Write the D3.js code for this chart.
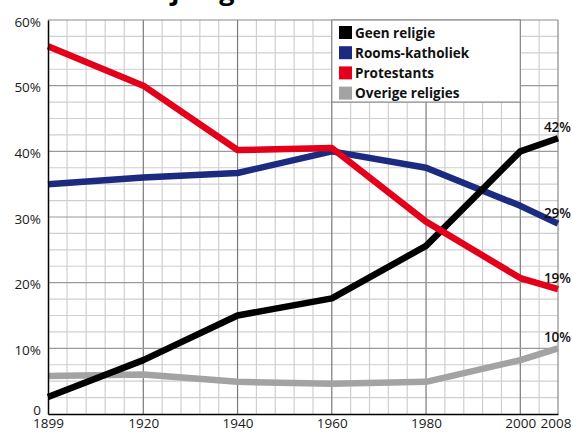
<!DOCTYPE html>
<html>
<head>
<meta charset="utf-8">
<script src="https://cdn.jsdelivr.net/npm/d3@7"></script>
<style>
  html, body { margin: 0; padding: 0; background: #fff; }
  svg { display: block; font-family: "Open Sans", "Noto Sans", sans-serif; }
</style>
</head>
<body>
<svg id="chart" width="572" height="433"></svg>
<script>
// Religious affiliation in the Netherlands, share of population (%)
const years = [1899, 1920, 1940, 1960, 1980, 2000, 2008];
const geenReligie    = [2.6, 8.2, 15.0, 17.6, 25.6, 40.0, 42];
const roomsKatholiek = [35.0, 36.0, 36.7, 40.0, 37.5, 31.7, 29];
const protestants    = [56.0, 50.0, 40.2, 40.5, 29.3, 20.7, 19];
const overige        = [5.8, 6.0, 4.9, 4.6, 4.9, 8.2, 10];

const seriesNames  = ["Geen religie", "Rooms-katholiek", "Protestants", "Overige religies"];
const seriesColors = ["#000000", "#1c2a80", "#e3001b", "#a3a3a3"];
const endLabels    = ["42%", "29%", "19%", "10%"];

const yTicks = [0, 10, 20, 30, 40, 50, 60];
const yTickLabels = ["0", "10%", "20%", "30%", "40%", "50%", "60%"];
const xTickLabels = ["1899", "1920", "1940", "1960", "1980", "2000", "2008"];

const seriesValues = [geenReligie, roomsKatholiek, protestants, overige];

const svg = d3.select("#chart");

// The first interval (1899-1920) gets the same width as a 20-year interval
const x = d3.scaleLinear().domain([1899, 1920, 2008]).range([48, 143.3, 558]);
const y = d3.scaleLinear().domain([0, 60]).range([414, 20]);

// Title (runs off the top edge)
svg.append("text")
  .attr("x", 76).attr("y", 0)
  .attr("font-size", 27).attr("font-weight", 700)
  .attr("fill", "#000")
  .text("Kerkelijke gezindte");

const grid = svg.append("g");

// minor grid: every 4 years (1899-1920 split into five), every 2.5%
const minorX = d3.range(1, 5).map(k => 1899 + k * 21 / 5)
  .concat(d3.range(1924, 2008, 4).filter(v => v % 20 !== 0));
const minorY = d3.range(2.5, 60, 2.5).filter(v => v % 10 !== 0);
const majorX = [1920, 1940, 1960, 1980, 2000];
const majorY = [10, 20, 30, 40, 50];

grid.selectAll("line.mx").data(minorX).join("line")
  .attr("x1", d => x(d)).attr("x2", d => x(d))
  .attr("y1", y(0)).attr("y2", y(60))
  .attr("stroke", "#cfcfcf").attr("stroke-width", 1.2);
grid.selectAll("line.my").data(minorY).join("line")
  .attr("x1", x(1899)).attr("x2", x(2008))
  .attr("y1", d => y(d)).attr("y2", d => y(d))
  .attr("stroke", "#cfcfcf").attr("stroke-width", 1.2);
grid.selectAll("line.Mx").data(majorX).join("line")
  .attr("x1", d => x(d)).attr("x2", d => x(d))
  .attr("y1", y(0)).attr("y2", y(60))
  .attr("stroke", "#7a7a7a").attr("stroke-width", 1.2);
grid.selectAll("line.My").data(majorY).join("line")
  .attr("x1", x(1899)).attr("x2", x(2008))
  .attr("y1", d => y(d)).attr("y2", d => y(d))
  .attr("stroke", "#9a9a9a").attr("stroke-width", 1.2);

// frame: top and right in grey
grid.append("line").attr("x1", x(1899)).attr("x2", x(2008)).attr("y1", y(60)).attr("y2", y(60))
  .attr("stroke", "#8a8a8a").attr("stroke-width", 1.2);
grid.append("line").attr("x1", x(2008)).attr("x2", x(2008)).attr("y1", y(0)).attr("y2", y(60))
  .attr("stroke", "#8a8a8a").attr("stroke-width", 1.2);

// legend panel covering the grid between 1960 and 2000
const lg = svg.append("g");
lg.append("rect")
  .attr("x", x(1960)).attr("y", y(60))
  .attr("width", x(2000) - x(1960)).attr("height", y(47.5) - y(60))
  .attr("fill", "#fff").attr("stroke", "#8a8a8a").attr("stroke-width", 1.2);
seriesNames.forEach((name, i) => {
  const cy = 32.5 + i * 20.2;
  lg.append("rect").attr("x", 339).attr("y", cy - 6.5).attr("width", 13).attr("height", 13)
    .attr("fill", seriesColors[i]);
  lg.append("text").attr("x", 355).attr("y", cy + 5)
    .attr("font-size", 13.5).attr("font-weight", 700).attr("fill", "#111")
    .text(name);
});

// lines
const line = d3.line().x((d, i) => x(years[i])).y(d => y(d));
const drawOrder = [3, 1, 0, 2];
drawOrder.forEach(i => {
  svg.append("path")
    .datum(seriesValues[i])
    .attr("d", line)
    .attr("fill", "none")
    .attr("stroke", seriesColors[i])
    .attr("stroke-width", 6.5)
    .attr("stroke-linejoin", "round");
});

// end labels
seriesValues.forEach((vals, i) => {
  svg.append("text")
    .attr("x", 571).attr("y", y(vals[vals.length - 1]) - 6)
    .attr("text-anchor", "end")
    .attr("font-size", 13.5).attr("font-weight", 600).attr("fill", "#111")
    .text(endLabels[i]);
});

// axes
const yAxis = d3.axisLeft(y).tickValues(yTicks).tickSize(0).tickPadding(7)
  .tickFormat((d, i) => yTickLabels[i]);
const gy = svg.append("g").attr("transform", `translate(${x(1899)},0)`).call(yAxis);
gy.select(".domain").attr("stroke", "#000").attr("stroke-width", 1.5);
gy.selectAll("text").attr("font-size", 13.5).attr("fill", "#1a1a1a")
  .attr("font-family", "'Open Sans', sans-serif")
  .attr("dy", d => d === 0 ? "0em" : "0.45em");

const xAxis = d3.axisBottom(x).tickValues(years).tickSize(0).tickPadding(4)
  .tickFormat((d, i) => xTickLabels[i]);
const gx = svg.append("g").attr("transform", `translate(0,${y(0)})`).call(xAxis);
gx.select(".domain").attr("stroke", "#000").attr("stroke-width", 1.5);
gx.selectAll("text").attr("font-size", 13.5).attr("fill", "#1a1a1a")
  .attr("font-family", "'Open Sans', sans-serif");
// the last year label sits flush against the right edge
gx.selectAll(".tick").filter(d => d === 2008).select("text")
  .attr("text-anchor", "end").attr("x", 571 - x(2008));
</script>
</body>
</html>
